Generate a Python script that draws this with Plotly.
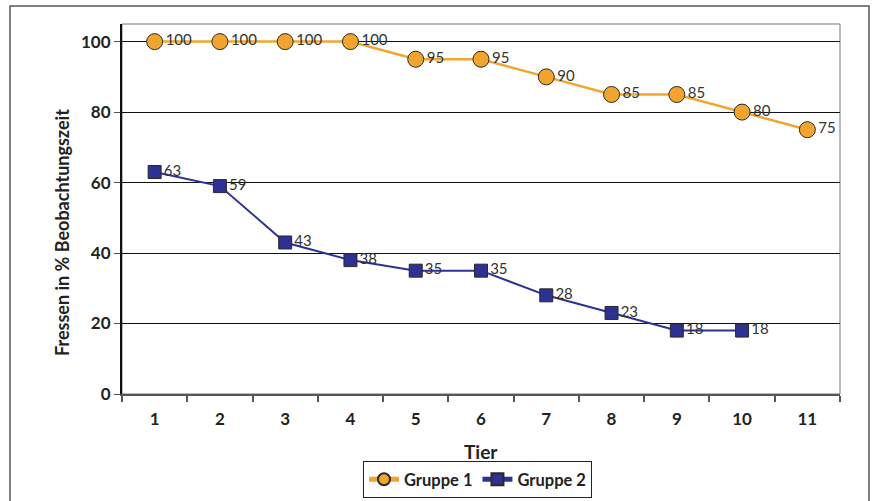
import plotly.graph_objects as go

tiere = [1, 2, 3, 4, 5, 6, 7, 8, 9, 10, 11]
gruppe1 = [100, 100, 100, 100, 95, 95, 90, 85, 85, 80, 75]
tiere2 = [1, 2, 3, 4, 5, 6, 7, 8, 9, 10]
gruppe2 = [63, 59, 43, 38, 35, 35, 28, 23, 18, 18]
y_ticks = [0, 20, 40, 60, 80, 100]

FONT = "Lato"
ORANGE = "#F2A52E"
NAVY = "#2D3192"

fig = go.Figure()
fig.add_trace(go.Scatter(
    x=tiere, y=gruppe1, name="Gruppe 1", mode="lines+markers+text",
    text=[str(v) for v in gruppe1], textposition="middle right",
    textfont=dict(family=FONT, size=15, color="#333333"),
    line=dict(color=ORANGE, width=2.5),
    marker=dict(symbol="circle", size=16, color=ORANGE, line=dict(color="#2a2a2a", width=1)),
    cliponaxis=False,
))
fig.add_trace(go.Scatter(
    x=tiere2, y=gruppe2, name="Gruppe 2", mode="lines+markers+text",
    text=[str(v) for v in gruppe2], textposition="middle right",
    textfont=dict(family=FONT, size=15, color="#333333"),
    line=dict(color=NAVY, width=2),
    marker=dict(symbol="square", size=13, color=NAVY, line=dict(color="#2a2a2a", width=1)),
    cliponaxis=False,
))

L, R, T, B = 122, 36, 24, 107
W, H = 876, 501
pw, ph = W - L - R, H - T - B

def px_x(p):
    return (p - L) / pw

def px_y(p):
    return (H - B - p) / ph

fig.update_layout(
    width=W, height=H,
    margin=dict(l=L, r=R, t=T, b=B),
    paper_bgcolor="white", plot_bgcolor="white",
    font=dict(family=FONT, color="#222222"),
    showlegend=True,
    legend=dict(
        orientation="h", xref="container", yref="container",
        x=477.5 / W, y=1 - 461 / H, xanchor="center", yanchor="top",
        bordercolor="#222222", borderwidth=1,
        font=dict(family=FONT, size=16.5, color="#222222", weight="bold"),
        itemsizing="constant", itemwidth=30,
    ),
    xaxis=dict(
        range=[0.5, 11.5], tickmode="array", tickvals=tiere,
        ticktext=[str(t) for t in tiere],
        ticks="", showgrid=False, zeroline=False,
        showline=True, linecolor="#555555", linewidth=1.5,
        ticklabelstandoff=9,
        tickfont=dict(family=FONT, size=17, color="#222222", weight="bold"),
        minor=dict(tickmode="array", tickvals=[t - 0.5 for t in tiere] + [11.5],
                   ticks="outside", ticklen=6, tickcolor="#555555", tickwidth=1.5, showgrid=False),
    ),
    yaxis=dict(
        range=[0, 105], tickmode="array", tickvals=y_ticks,
        ticks="outside", ticklen=6, tickcolor="#555555",
        showgrid=True, gridcolor="#111111", gridwidth=1,
        zeroline=False, showline=True, linecolor="#111111", linewidth=2,
        tickfont=dict(family=FONT, size=17, color="#222222", weight="bold"),
    ),
    annotations=[
        dict(text="Tier", xref="paper", yref="paper", x=0.5, y=px_y(451),
             xanchor="center", yanchor="middle", showarrow=False,
             font=dict(family=FONT, size=19, color="#222222", weight="bold")),
        dict(text="Fressen in % Beobachtungszeit", xref="paper", yref="paper",
             x=px_x(62), y=px_y(233), xanchor="center", yanchor="middle",
             textangle=-90, showarrow=False,
             font=dict(family=FONT, size=18, color="#222222", weight="bold")),
    ],
    shapes=[
        dict(type="rect", xref="paper", yref="paper", x0=0, x1=1, y0=0, y1=1,
             line=dict(color="#777777", width=1), layer="below"),
        dict(type="rect", xref="paper", yref="paper", x0=px_x(10), x1=px_x(869),
             y0=px_y(520), y1=px_y(6), line=dict(color="#555555", width=1.5)),
    ],
)

fig.write_html("out.html")
